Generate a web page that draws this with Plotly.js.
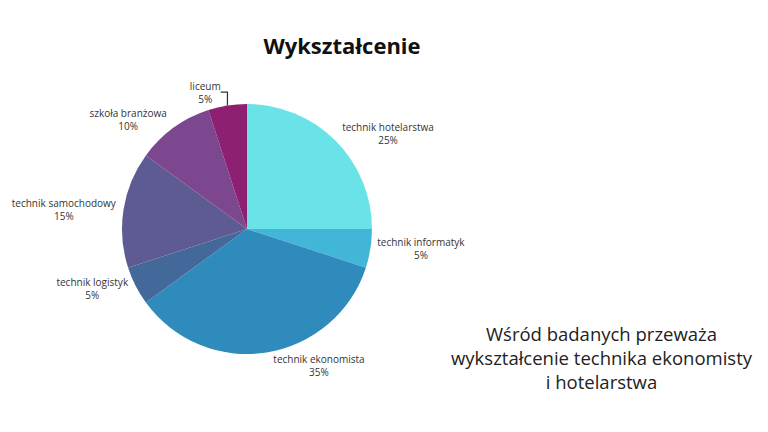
<!DOCTYPE html>
<html>
<head>
<meta charset="utf-8">
<script src="https://cdn.plot.ly/plotly-3.0.1.min.js"></script>
<style>
  html, body { margin: 0; padding: 0; background: #fff; }
  #chart { width: 768px; height: 432px; }
</style>
</head>
<body>
<div id="chart"></div>
<script>
const labels = [
  'technik hotelarstwa',
  'technik informatyk',
  'technik ekonomista',
  'technik logistyk',
  'technik samochodowy',
  'szkoła branżowa',
  'liceum'
];
const shares = [25, 5, 35, 5, 15, 10, 5];
const colors = ['#69e3e8', '#42b6d6', '#2e8bbb', '#42699a', '#5e5a92', '#7c478f', '#8e2072'];

const FONT = '"Open Sans", "Noto Sans", sans-serif';

const trace = {
  type: 'pie',
  labels: labels,
  values: shares,
  sort: false,
  direction: 'clockwise',
  rotation: 0,
  marker: { colors: colors, line: { width: 0 } },
  textposition: 'outside',
  texttemplate: '%{label}<br>%{percent:.0%}',
  outsidetextfont: { family: FONT, size: 10, color: '#333333' },
  hoverinfo: 'label+percent',
  domain: { x: [122 / 768, 372 / 768], y: [1 - 354 / 432, 1 - 104 / 432] },
  showlegend: false
};

const layout = {
  width: 768,
  height: 432,
  paper_bgcolor: '#ffffff',
  margin: { l: 0, r: 0, t: 0, b: 0 },
  font: { family: FONT, color: '#333333' },
  title: {
    text: '<b>Wykształcenie</b>',
    font: { family: FONT, size: 22, color: '#111111' },
    x: 342 / 768,
    xanchor: 'center',
    y: 1 - 46 / 432,
    yanchor: 'middle'
  },
  annotations: [{
    text: 'Wśród badanych przeważa<br>wykształcenie technika ekonomisty<br>i hotelarstwa',
    xref: 'paper', yref: 'paper',
    x: 602 / 768, y: 1 - 357 / 432,
    xanchor: 'center', yanchor: 'middle',
    showarrow: false,
    align: 'center',
    font: { family: FONT, size: 18.5, color: '#222222' }
  }]
};

Plotly.newPlot('chart', [trace], layout, { displayModeBar: false, staticPlot: true });
</script>
</body>
</html>
